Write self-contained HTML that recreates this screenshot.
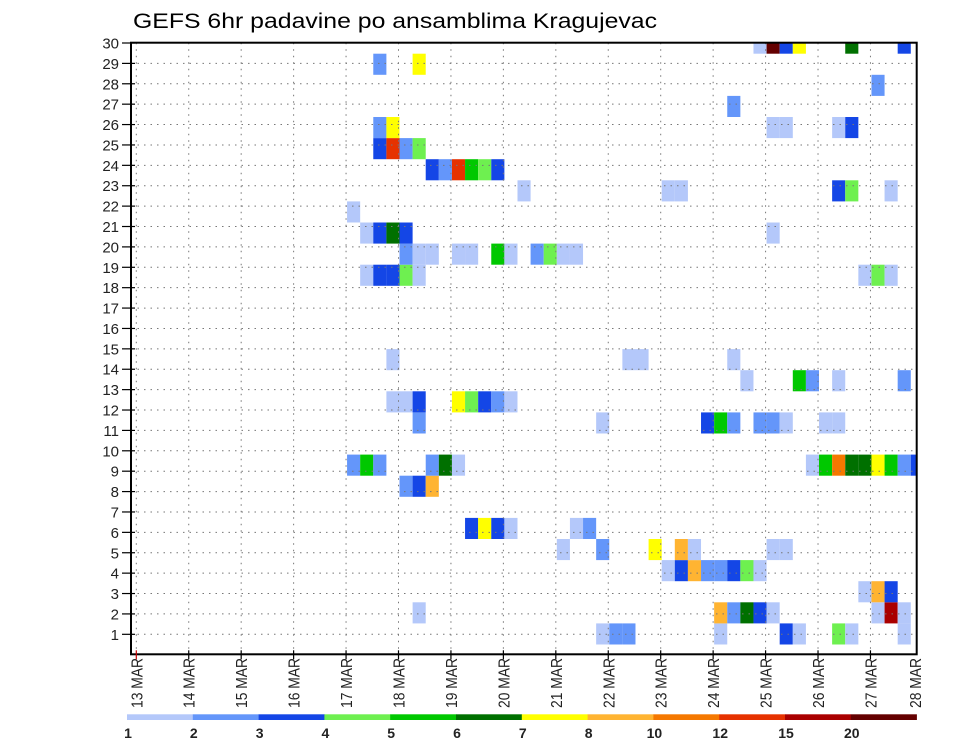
<!DOCTYPE html>
<html><head><meta charset="utf-8"><style>
html,body{margin:0;padding:0;background:#fff;}
svg{display:block;font-family:"Liberation Sans",sans-serif;}
</style></head><body>
<svg id="chart" width="960" height="742" viewBox="0 0 960 742" xmlns="http://www.w3.org/2000/svg">
<text x="133" y="28" font-size="21" textLength="524" lengthAdjust="spacingAndGlyphs" fill="#000">GEFS 6hr padavine po ansamblima Kragujevac</text>
<g id="cells"></g>
<g id="grid"></g>
<rect x="131" y="42.7" width="785.7" height="611.6" fill="none" stroke="#000" stroke-width="2"/>
<g id="yaxis"></g>
<g id="xaxis"></g>
<g id="legend"></g>
</svg>
<script>
// ---- data ----
const dayLabels = ["13 MAR","14 MAR","15 MAR","16 MAR","17 MAR","18 MAR","19 MAR","20 MAR","21 MAR","22 MAR","23 MAR","24 MAR","25 MAR","26 MAR","27 MAR","28 MAR"];
const memberLabels = [1,2,3,4,5,6,7,8,9,10,11,12,13,14,15,16,17,18,19,20,21,22,23,24,25,26,27,28,29,30];
const levels = [1,2,3,4,5,6,7,8,10,12,15,20];
const levelLabels = ["1","2","3","4","5","6","7","8","10","12","15","20"];
const levelColors = ["#b4c8fa","#6496fa","#1446e6","#6ef050","#00c800","#007000","#ffff00","#ffb432","#f57800","#e63200","#aa0000","#640000"];
// precipitation samples: member row, 6h step index, value (mm)
const cellMember = [];
const cellStep = [];
const cellValue = [];
const rowsData = {
29:[[47,1.5],[48,22],[49,3.5],[50,7.5],[54,6.5],[58,3.5]],
28:[[18,2.5],[21,7.5]],
27:[[56,2.5]],
26:[[45,2.5]],
25:[[18,2.5],[19,7.5],[48,1.5],[49,1.5],[53,1.5],[54,3.5]],
24:[[18,3.5],[19,13],[20,2.5],[21,4.5]],
23:[[22,3.5],[23,2.5],[24,13],[25,5.5],[26,4.5],[27,3.5]],
22:[[29,1.5],[40,1.5],[41,1.5],[53,3.5],[54,4.5],[57,1.5]],
21:[[16,1.5]],
20:[[17,1.5],[18,3.5],[19,6.5],[20,3.5],[48,1.5]],
19:[[20,2.5],[21,1.5],[22,1.5],[24,1.5],[25,1.5],[27,5.5],[28,1.5],[30,2.5],[31,4.5],[32,1.5],[33,1.5]],
18:[[17,1.5],[18,3.5],[19,3.5],[20,4.5],[21,1.5],[55,1.5],[56,4.5],[57,1.5]],
14:[[19,1.5],[37,1.5],[38,1.5],[45,1.5]],
13:[[46,1.5],[50,5.5],[51,2.5],[53,1.5],[58,2.5]],
12:[[19,1.5],[20,1.5],[21,3.5],[24,7.5],[25,4.5],[26,3.5],[27,2.5],[28,1.5]],
11:[[21,2.5],[35,1.5],[43,3.5],[44,5.5],[45,2.5],[47,2.5],[48,2.5],[49,1.5],[52,1.5],[53,1.5]],
9:[[16,2.5],[17,5.5],[18,2.5],[22,2.5],[23,6.5],[24,1.5],[51,1.5],[52,5.5],[53,11],[54,6.5],[55,6.5],[56,7.5],[57,5.5],[58,2.5],[59,3.5]],
8:[[20,2.5],[21,3.5],[22,9]],
6:[[25,3.5],[26,7.5],[27,3.5],[28,1.5],[33,1.5],[34,2.5]],
5:[[32,1.5],[35,2.5],[39,7.5],[41,9],[42,1.5],[48,1.5],[49,1.5]],
4:[[40,1.5],[41,3.5],[42,9],[43,2.5],[44,2.5],[45,3.5],[46,4.5],[47,1.5]],
3:[[55,1.5],[56,9],[57,3.5]],
2:[[21,1.5],[44,9],[45,2.5],[46,6.5],[47,3.5],[48,1.5],[56,1.5],[57,17],[58,1.5]],
1:[[35,1.5],[36,2.5],[37,2.5],[44,1.5],[49,3.5],[50,1.5],[53,4.5],[54,1.5],[58,1.5]]
};
Object.keys(rowsData).forEach(function(k){rowsData[k].forEach(function(p){cellMember.push(+k);cellStep.push(p[0]);cellValue.push(p[1]);});});

// ---- scales ----
const NS="http://www.w3.org/2000/svg";
const PL=131, PR=916.7, PT=42.7, PB=654.3;
const dayX = d => 136.3 + d*52.44;
const stepW = 52.44/4;
const stepX = i => 137.3 + i*stepW;
const labelY = m => 43 + (30-m)*20.39;
const cellH = 21.1;
const cellTop = r => 644.5 - r*cellH;
function colorOf(v){let c=levelColors[0];for(let k=0;k<levels.length;k++){if(v>=levels[k])c=levelColors[k];}return c;}
function mk(tag,attrs,parent){const e=document.createElementNS(NS,tag);for(const a in attrs)e.setAttribute(a,attrs[a]);parent.appendChild(e);return e;}

const gC=document.getElementById('cells');
for(let n=0;n<cellValue.length;n++){
  let x=stepX(cellStep[n]), y=cellTop(cellMember[n]), w=stepW, h=cellH;
  if(y<PT){h-= (PT-y); y=PT;}
  if(x+w>PR){w=PR-x;}
  const r=mk('rect',{x:x.toFixed(2),y:y.toFixed(2),width:w.toFixed(2),height:h.toFixed(2),fill:colorOf(cellValue[n])},gC);
  
  
}
const gG=document.getElementById('grid');
for(let m=1;m<=29;m++){
  const l=mk('line',{x1:PL,x2:PR,y1:labelY(m),y2:labelY(m),stroke:'#777','stroke-width':1,'stroke-dasharray':'1.5 5'},gG);
  
  
}
for(let d=0;d<15;d++){
  const l=mk('line',{x1:dayX(d),x2:dayX(d),y1:PT,y2:PB,stroke:'#777','stroke-width':1,'stroke-dasharray':'1.5 5'},gG);
  
  
}
const gY=document.getElementById('yaxis');
memberLabels.forEach(function(m){
  const y=labelY(m);
  const t=mk('line',{x1:122,x2:PL+4,y1:y,y2:y,stroke:'#000','stroke-width':1.2},gY);
  
  
  const tx=mk('text',{x:119,y:y+5.5,'font-size':15,'text-anchor':'end',fill:'#222'},gY);
  tx.textContent=m;
  
  
});
const gX=document.getElementById('xaxis');
dayLabels.forEach(function(lab,d){
  let x=dayX(d);
  if(d<15){
    const t=mk('line',{x1:x,x2:x,y1:PB-4,y2:PB+5,stroke:d===0?'#c00':'#000','stroke-width':1.2},gX);
    
    
  } else { x=915; }
  const tx=mk('text',{x:0,y:0,'font-size':16,'text-anchor':'end',fill:'#222',textLength:50,lengthAdjust:'spacingAndGlyphs',transform:'translate('+(x+6)+',658) rotate(-90)'},gX);
  tx.textContent=lab;
  
  
});
const gL=document.getElementById('legend');
const LX=127, LW=65.8;
levelColors.forEach(function(c,k){
  const r=mk('rect',{x:LX+k*LW,y:714.3,width:LW+0.3,height:5.7,fill:c},gL);
  
  
  const tx=mk('text',{x:LX+k*LW+1,y:738,'font-size':14,'font-weight':'bold','text-anchor':'middle',fill:'#222'},gL);
  tx.textContent=levelLabels[k];
  
  
});
</script>
</body></html>
